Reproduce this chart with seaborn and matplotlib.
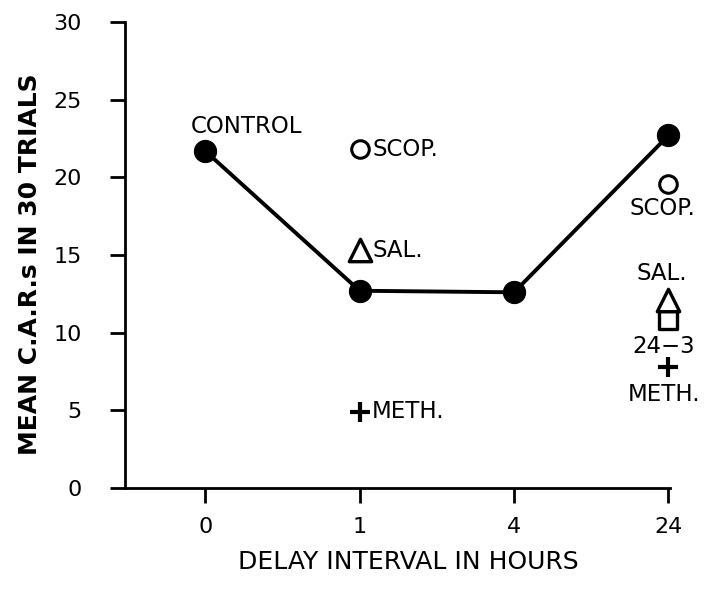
import matplotlib
matplotlib.use("Agg")
import matplotlib.pyplot as plt
import seaborn as sns
import pandas as pd

delay_labels = ["0", "1", "4", "24"]
control_vals = [21.7, 12.7, 12.6, 22.7]

scop_delay = ["1", "24"]
scop_vals = [21.8, 19.6]
sal_delay = ["1", "24"]
sal_vals = [15.3, 12.1]
meth_delay = ["1", "24"]
meth_vals = [4.9, 7.8]
g243_delay = ["24"]
g243_vals = [10.8]

pos = {lab: i for i, lab in enumerate(delay_labels)}

sns.set_style("white")
plt.rcParams["font.family"] = ["DejaVu Sans"]

fig = plt.figure(figsize=(7.06, 5.89), dpi=100)
ax = fig.add_axes([0.177, 0.1715, 0.772, 0.791])

ctrl = pd.DataFrame({"x": [pos[d] for d in delay_labels], "y": control_vals})
sns.lineplot(data=ctrl, x="x", y="y", ax=ax, color="black", lw=2.8,
             marker="o", markersize=16, markeredgecolor="black", clip_on=False)

scop = pd.DataFrame({"x": [pos[d] for d in scop_delay], "y": scop_vals})
sns.scatterplot(data=scop, x="x", y="y", ax=ax, marker="o", s=160,
                facecolor="white", edgecolor="black", linewidth=2.2, clip_on=False)
sal = pd.DataFrame({"x": [pos[d] for d in sal_delay], "y": sal_vals})
sns.scatterplot(data=sal, x="x", y="y", ax=ax, marker="^", s=260,
                facecolor="white", edgecolor="black", linewidth=2.4, clip_on=False,
                zorder=4)
g = pd.DataFrame({"x": [pos[d] for d in g243_delay], "y": g243_vals})
sns.scatterplot(data=g, x="x", y="y", ax=ax, marker="s", s=170,
                facecolor="white", edgecolor="black", linewidth=2.4, clip_on=False,
                zorder=3)
meth = pd.DataFrame({"x": [pos[d] for d in meth_delay], "y": meth_vals})
sns.scatterplot(data=meth, x="x", y="y", ax=ax, marker="+", s=220,
                color="black", linewidth=3, clip_on=False)

fs = 16.5
kw = dict(fontsize=fs, color="black")
ax.text(0.27, control_vals[0] + 1.6, "CONTROL", ha="center", va="center", **kw)
ax.text(1.08, scop_vals[0], "SCOP.", ha="left", va="center", **kw)
ax.text(1.08, sal_vals[0], "SAL.", ha="left", va="center", **kw)
ax.text(1.08, meth_vals[0], "METH.", ha="left", va="center", **kw)
ax.text(2.96, scop_vals[1] - 1.6, "SCOP.", ha="center", va="center", **kw)
ax.text(2.96, sal_vals[1] + 1.7, "SAL.", ha="center", va="center", **kw)
ax.text(2.97, g243_vals[0] - 1.7, "24\u22123", ha="center", va="center", **kw)
ax.text(2.97, meth_vals[1] - 1.8, "METH.", ha="center", va="center", **kw)

ax.set_xlim(-0.52, 3.01)
ax.set_ylim(0, 30)
ax.set_xticks(range(len(delay_labels)))
ax.set_xticklabels(delay_labels)
ax.set_yticks([0, 5, 10, 15, 20, 25, 30])
ax.tick_params(axis="both", direction="out", length=11, width=2, labelsize=16,
               colors="black", bottom=True, left=True)
ax.tick_params(axis="x", pad=10)
ax.tick_params(axis="y", pad=20)
for s in ["top", "right"]:
    ax.spines[s].set_visible(False)
for s in ["left", "bottom"]:
    ax.spines[s].set_color("black")
    ax.spines[s].set_linewidth(2)

ax.set_xlabel("DELAY INTERVAL IN HOURS", fontsize=18, labelpad=9, color="black")
ax.xaxis.label.set_x(0.52)
ax.set_ylabel("MEAN C.A.R.s IN 30 TRIALS", fontsize=18, fontweight="bold",
              labelpad=8, color="black")
ax.yaxis.label.set_y(0.48)

fig.savefig("out.png", dpi=100)
